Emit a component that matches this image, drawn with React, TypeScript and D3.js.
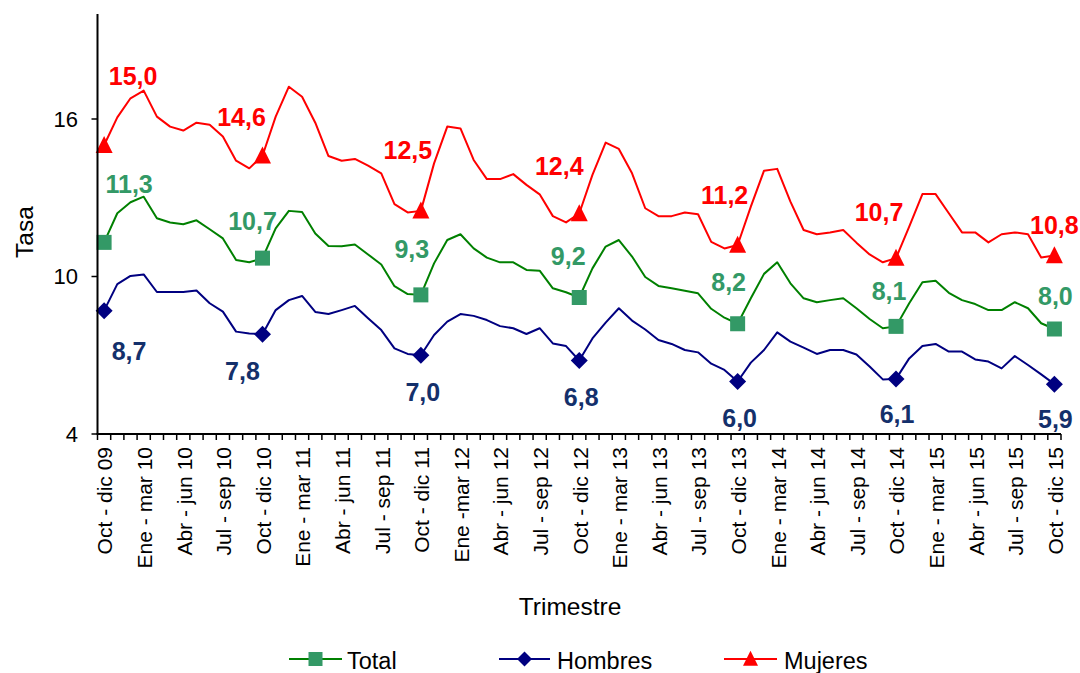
import React from "react";
import * as d3 from "d3";

const mujeres = [
  15.0, 16.06, 16.79, 17.08, 16.09, 15.71, 15.56, 15.86, 15.78, 15.33, 14.41, 14.12,
  14.6, 16.09, 17.23, 16.85, 15.86, 14.59, 14.41, 14.48, 14.22, 13.93, 12.76, 12.44,
  12.5, 14.31, 15.71, 15.64, 14.44, 13.71, 13.71, 13.9, 13.49, 13.13, 12.3, 12.06,
  12.4, 13.87, 15.1, 14.86, 13.93, 12.6, 12.3, 12.3, 12.44, 12.37, 11.32, 11.07,
  11.2, 12.66, 14.03, 14.1, 12.85, 11.77, 11.61, 11.68, 11.77, 11.29, 10.84, 10.54,
  10.7, 11.9, 13.14, 13.14, 12.41, 11.68, 11.68, 11.3, 11.61, 11.68, 11.61, 10.72,
  10.8,
];

const total = [
  11.3, 12.41, 12.83, 13.04, 12.22, 12.06, 11.99, 12.14, 11.8, 11.45, 10.63, 10.54,
  10.7, 11.83, 12.5, 12.46, 11.64, 11.16, 11.15, 11.22, 10.84, 10.46, 9.63, 9.33,
  9.3, 10.5, 11.39, 11.61, 11.07, 10.72, 10.54, 10.54, 10.25, 10.22, 9.55, 9.4,
  9.2, 10.31, 11.14, 11.39, 10.76, 9.98, 9.64, 9.55, 9.46, 9.36, 8.77, 8.43,
  8.2, 9.17, 10.1, 10.54, 9.74, 9.17, 9.02, 9.1, 9.17, 8.79, 8.38, 8.03,
  8.1, 8.98, 9.78, 9.84, 9.38, 9.1, 8.95, 8.72, 8.72, 9.02, 8.79, 8.22,
  8.0,
];

const hombres = [
  8.7, 9.71, 10.02, 10.08, 9.41, 9.41, 9.41, 9.47, 8.98, 8.66, 7.9, 7.83,
  7.8, 8.72, 9.1, 9.26, 8.65, 8.57, 8.72, 8.88, 8.41, 7.96, 7.26, 7.05,
  7.0, 7.77, 8.28, 8.57, 8.5, 8.34, 8.11, 8.03, 7.81, 8.03, 7.45, 7.35,
  6.8, 7.64, 8.24, 8.79, 8.32, 7.98, 7.58, 7.43, 7.2, 7.11, 6.68, 6.44,
  6.0, 6.72, 7.2, 7.87, 7.52, 7.29, 7.05, 7.2, 7.2, 7.03, 6.57, 6.08,
  6.1, 6.88, 7.35, 7.43, 7.14, 7.14, 6.84, 6.76, 6.5, 6.97, 6.63, 6.27,
  5.9,
];

// labels shown every third category (rolling quarters)
const tickLabels = [
  "Oct - dic 09", "Ene - mar 10", "Abr - jun 10", "Jul - sep 10",
  "Oct - dic 10", "Ene - mar 11", "Abr - jun 11", "Jul - sep 11",
  "Oct - dic 11", "Ene -mar 12", "Abr - jun 12", "Jul - sep 12",
  "Oct - dic 12", "Ene - mar 13", "Abr - jun 13", "Jul - sep 13",
  "Oct - dic 13", "Ene - mar 14", "Abr - jun 14", "Jul - sep 14",
  "Oct - dic 14", "Ene - mar 15", "Abr - jun 15", "Jul - sep 15",
  "Oct - dic 15",
];

const yTicks = [4, 10, 16];

// indices of labelled points (one per year, Oct - dic)
const labelIdx = [0, 12, 24, 36, 48, 60, 72];

// label offsets (pixels, relative to the point) — styling only
const offMujeres = [[29, -60], [-21, -30], [-13, -52], [-20, -39], [-13, -41], [-17, -37], [0, -22]];
const offTotal = [[25, -49], [-10, -28], [-9, -37], [-11, -33], [-9, -33], [-7, -26], [1, -24]];
const offHombres = [[25, 49], [-20, 46], [2, 46], [2, 45], [2, 45], [1, 44], [1, 44]];

const FONT = "'Liberation Sans', Arial, sans-serif";

const W = 1080;
const H = 673;
const left = 97.5;
const right = 1061;
const top = 14;
const bottom = 434;

export default function App() {
  const n = mujeres.length;
  const x = d3.scaleBand<number>().domain(d3.range(n)).range([left, right]).padding(0);
  const cx = (i: number) => (x(i) as number) + x.bandwidth() / 2;
  const y = d3.scaleLinear().domain([4, 20]).range([bottom, top]);

  const line = d3
    .line<number>()
    .x((_, i) => cx(i))
    .y((d) => y(d));

  const fmt = (v: number) => v.toFixed(1).replace(".", ",");

  const boundaries = d3.range(n + 1).map((i) => (i < n ? (x(i) as number) : right));

  const square = (px: number, py: number, s: number, fill: string, key: string) => (
    <rect key={key} x={px - s / 2} y={py - s / 2} width={s} height={s} fill={fill} />
  );
  const diamond = (px: number, py: number, s: number, fill: string, key: string) => (
    <path
      key={key}
      d={`M${px},${py - s / 2}L${px + s / 2},${py}L${px},${py + s / 2}L${px - s / 2},${py}Z`}
      fill={fill}
    />
  );
  const triangle = (px: number, py: number, s: number, fill: string, key: string) => (
    <path
      key={key}
      d={`M${px},${py - s * 0.55}L${px + s / 2},${py + s * 0.45}L${px - s / 2},${py + s * 0.45}Z`}
      fill={fill}
    />
  );

  const series = [
    { name: "Total", data: total, line: "#008000", marker: "#339966", label: "#339966", off: offTotal, shape: "square" },
    { name: "Hombres", data: hombres, line: "#000080", marker: "#000080", label: "#14306B", off: offHombres, shape: "diamond" },
    { name: "Mujeres", data: mujeres, line: "#FF0000", marker: "#FF0000", label: "#FF0000", off: offMujeres, shape: "triangle" },
  ];

  const drawMarker = (shape: string, px: number, py: number, fill: string, key: string, size?: number) => {
    if (shape === "square") return square(px, py, size ?? 15, fill, key);
    if (shape === "diamond") return diamond(px, py, size ?? 17, fill, key);
    return triangle(px, py, size ?? 17, fill, key);
  };

  const legendItems = [
    { s: series[0], x0: 289, x1: 342, tx: 347 },
    { s: series[1], x0: 499, x1: 550, tx: 557 },
    { s: series[2], x0: 724, x1: 777, tx: 784 },
  ];

  return (
    <svg
      width={W}
      height={H}
      style={{ position: "absolute", left: 0, top: 0, background: "#fff" }}
      fontFamily={FONT}
    >
      <rect x={0} y={0} width={W} height={H} fill="#fff" />

      {/* series lines */}
      {series.map((s) => (
        <path key={s.name} d={line(s.data) || ""} fill="none" stroke={s.line} strokeWidth={2} strokeLinejoin="round" />
      ))}

      {/* markers */}
      {series.map((s) =>
        labelIdx.map((i) => drawMarker(s.shape, cx(i), y(s.data[i]), s.marker, `${s.name}-m-${i}`))
      )}

      {/* data labels */}
      {series.map((s) =>
        labelIdx.map((i, k) => (
          <text
            key={`${s.name}-l-${i}`}
            x={cx(i) + s.off[k][0]}
            y={y(s.data[i]) + s.off[k][1]}
            textAnchor="middle"
            fontSize={25}
            fontWeight="bold"
            fill={s.label}
          >
            {fmt(s.data[i])}
          </text>
        ))
      )}

      {/* axes */}
      <line x1={left} x2={left} y1={top} y2={bottom} stroke="#000" strokeWidth={2} />
      <line x1={left - 1} x2={right} y1={bottom} y2={bottom} stroke="#000" strokeWidth={2} />
      {yTicks.map((t) => (
        <g key={`yt-${t}`}>
          <line x1={left - 6} x2={left} y1={y(t)} y2={y(t)} stroke="#000" strokeWidth={1.5} />
          <text x={78} y={y(t)} dy="0.35em" textAnchor="end" fontSize={22} fill="#000">
            {t}
          </text>
        </g>
      ))}
      {boundaries.map((bx, i) => (
        <line key={`xt-${i}`} x1={bx} x2={bx} y1={bottom} y2={bottom + 6} stroke="#000" strokeWidth={1.5} />
      ))}
      {tickLabels.map((lab, k) => {
        const i = k * 3;
        return (
          <text
            key={`xl-${k}`}
            transform={`translate(${cx(i) + 1},${447}) rotate(-90)`}
            dy="0.35em"
            textAnchor="end"
            fontSize={21}
            fill="#000"
          >
            {lab}
          </text>
        );
      })}

      {/* axis titles */}
      <text transform="translate(33,232) rotate(-90)" textAnchor="middle" fontSize={24.5} fill="#000">
        Tasa
      </text>
      <text x={570} y={615} textAnchor="middle" fontSize={24.5} fill="#000">
        Trimestre
      </text>

      {/* legend */}
      {legendItems.map((it) => {
        const ly = 659;
        return (
          <g key={`lg-${it.s.name}`}>
            <line x1={it.x0} x2={it.x1} y1={ly} y2={ly} stroke={it.s.line} strokeWidth={2} />
            {drawMarker(it.s.shape, (it.x0 + it.x1) / 2, ly, it.s.marker, `lgm-${it.s.name}`, it.s.shape === "square" ? 14 : 15)}
            <text x={it.tx} y={669} fontSize={23.5} fill="#000">
              {it.s.name}
            </text>
          </g>
        );
      })}
    </svg>
  );
}
